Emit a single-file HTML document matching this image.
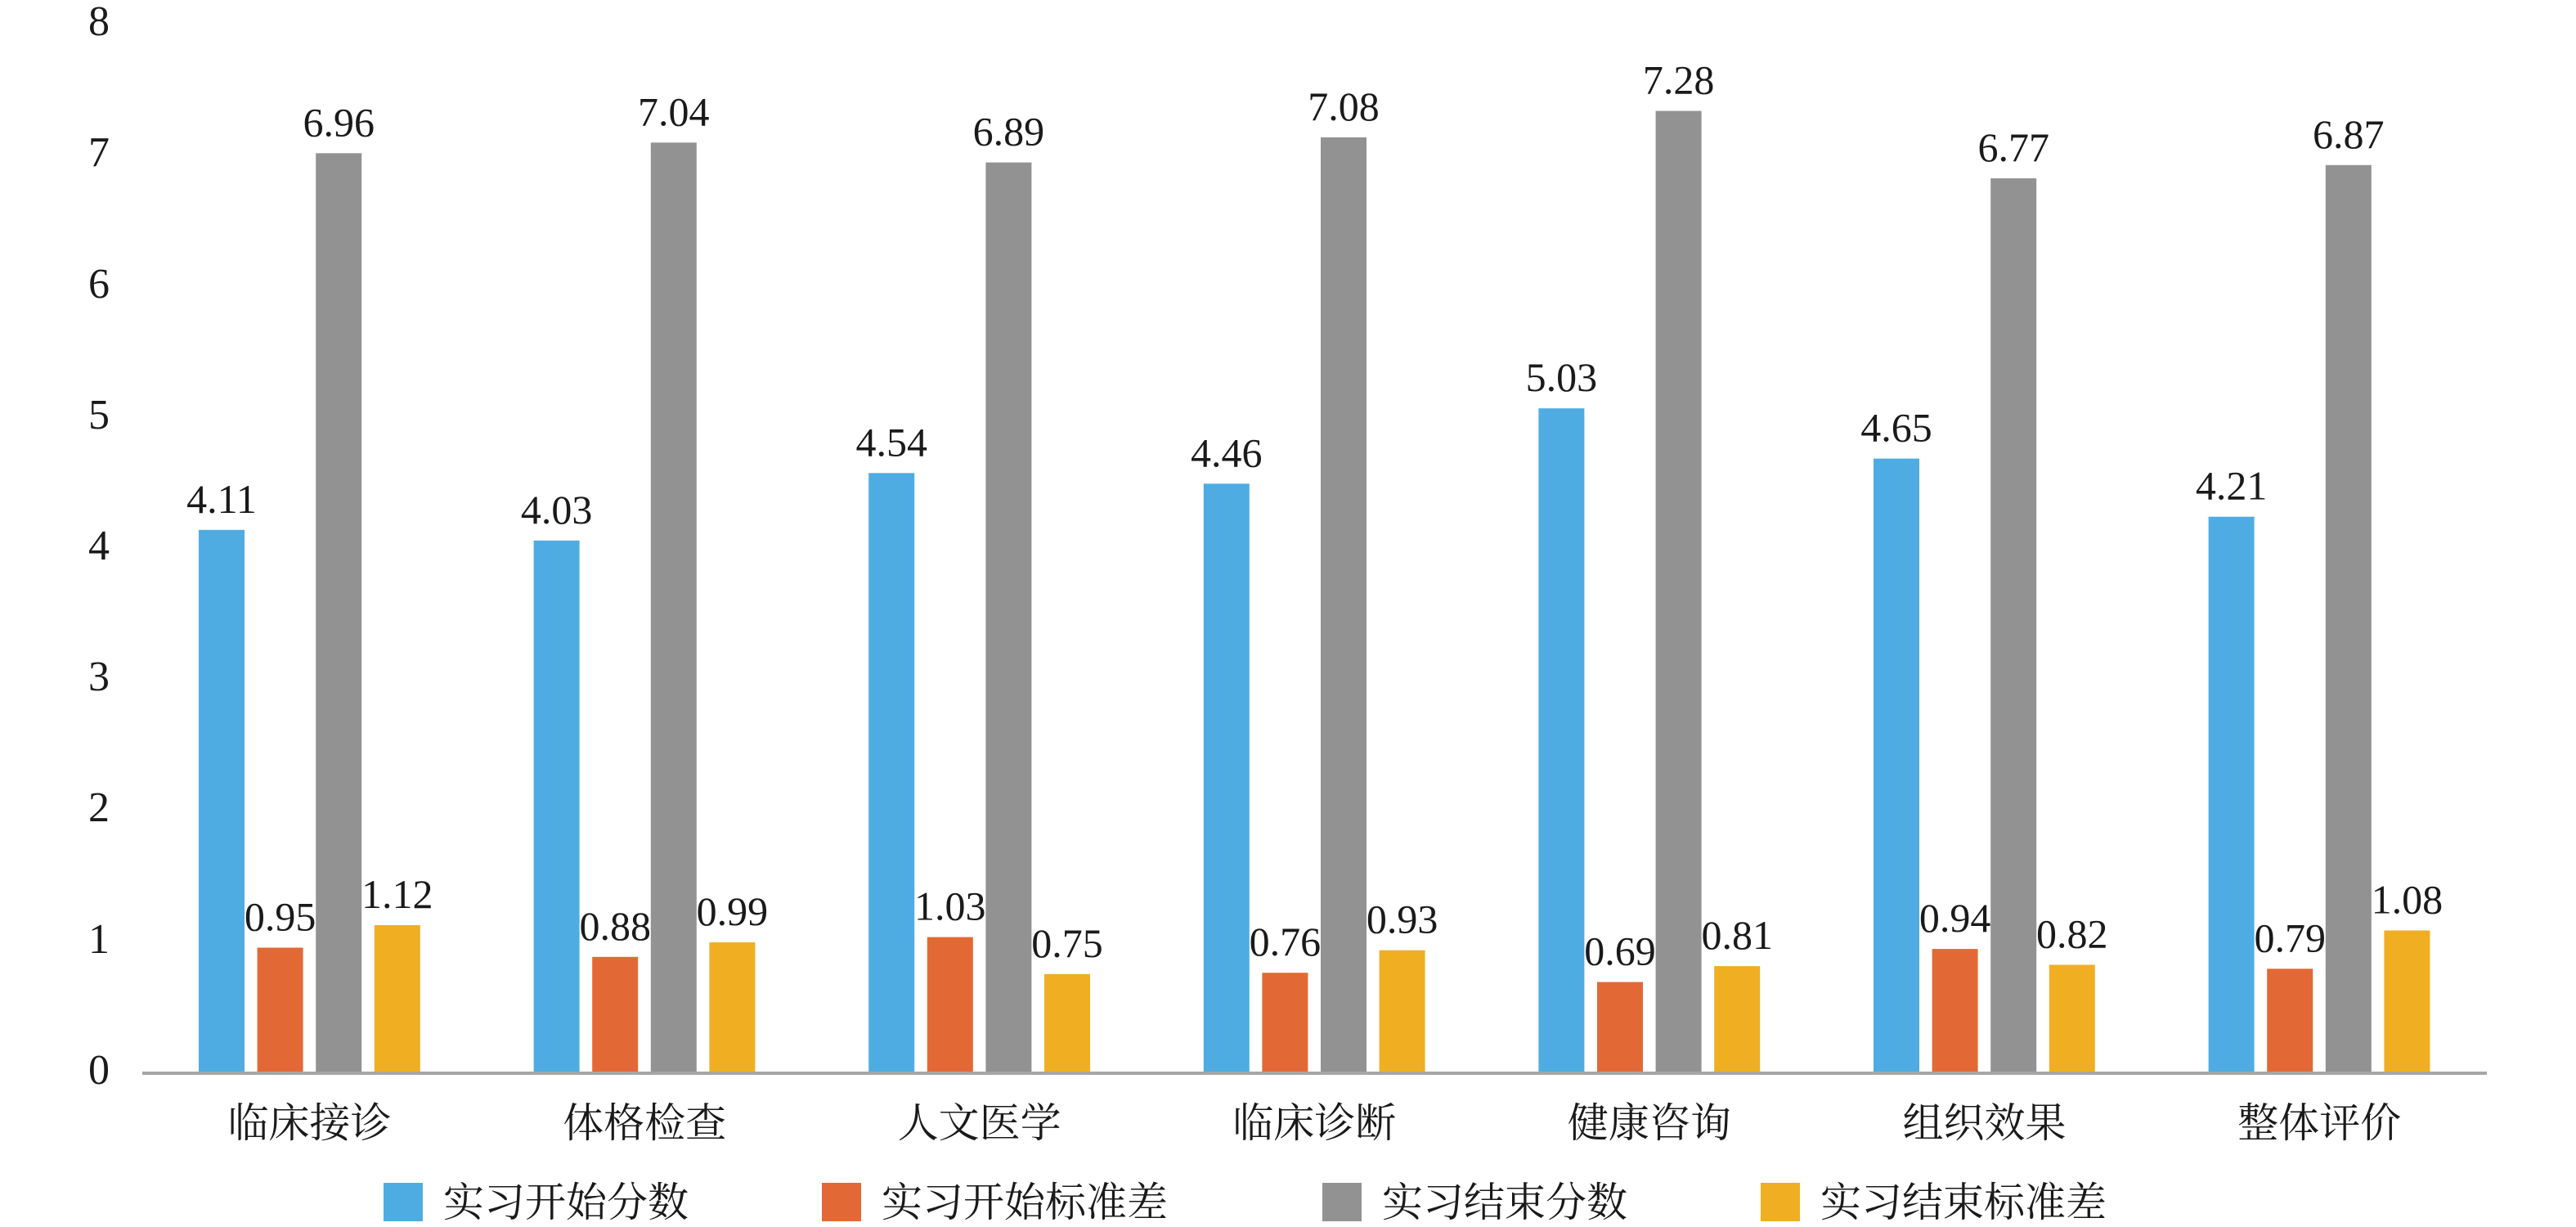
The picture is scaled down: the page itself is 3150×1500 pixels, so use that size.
<!DOCTYPE html>
<html><head><meta charset="utf-8"><style>html,body{margin:0;padding:0;background:#fff}svg{display:block}</style></head>
<body>
<svg width="3150" height="1500" viewBox="0 0 3150 1500" xmlns="http://www.w3.org/2000/svg">
<rect width="3150" height="1500" fill="#fff"/>
<g font-family="'Liberation Serif', serif" font-size="52" fill="#1a1a1a" text-anchor="middle">
<text x="121" y="43">8</text><text x="121" y="203">7</text><text x="121" y="364">6</text><text x="121" y="524">5</text><text x="121" y="684">4</text><text x="121" y="844">3</text><text x="121" y="1004">2</text><text x="121" y="1165">1</text><text x="121" y="1325">0</text>
</g>
<g>
<rect x="243" y="647.8" width="56" height="664.2" fill="#4FACE2"/>
<rect x="314.6" y="1158.5" width="56" height="153.5" fill="#E26935"/>
<rect x="386.2" y="187.3" width="56" height="1124.7" fill="#939293"/>
<rect x="457.8" y="1131" width="56" height="181" fill="#F0AE23"/>
<rect x="652.6" y="660.8" width="56" height="651.2" fill="#4FACE2"/>
<rect x="724.2" y="1169.8" width="56" height="142.2" fill="#E26935"/>
<rect x="795.8" y="174.3" width="56" height="1137.7" fill="#939293"/>
<rect x="867.4" y="1152" width="56" height="160" fill="#F0AE23"/>
<rect x="1062.2" y="578.3" width="56" height="733.7" fill="#4FACE2"/>
<rect x="1133.8" y="1145.6" width="56" height="166.4" fill="#E26935"/>
<rect x="1205.4" y="198.6" width="56" height="1113.4" fill="#939293"/>
<rect x="1277" y="1190.8" width="56" height="121.2" fill="#F0AE23"/>
<rect x="1471.8" y="591.3" width="56" height="720.7" fill="#4FACE2"/>
<rect x="1543.4" y="1189.2" width="56" height="122.8" fill="#E26935"/>
<rect x="1615" y="167.9" width="56" height="1144.1" fill="#939293"/>
<rect x="1686.6" y="1161.7" width="56" height="150.3" fill="#F0AE23"/>
<rect x="1881.4" y="499.2" width="56" height="812.8" fill="#4FACE2"/>
<rect x="1953" y="1200.5" width="56" height="111.5" fill="#E26935"/>
<rect x="2024.6" y="135.6" width="56" height="1176.4" fill="#939293"/>
<rect x="2096.2" y="1181.1" width="56" height="130.9" fill="#F0AE23"/>
<rect x="2291" y="560.6" width="56" height="751.4" fill="#4FACE2"/>
<rect x="2362.6" y="1160.1" width="56" height="151.9" fill="#E26935"/>
<rect x="2434.2" y="218" width="56" height="1094" fill="#939293"/>
<rect x="2505.8" y="1179.5" width="56" height="132.5" fill="#F0AE23"/>
<rect x="2700.6" y="631.7" width="56" height="680.3" fill="#4FACE2"/>
<rect x="2772.2" y="1184.3" width="56" height="127.7" fill="#E26935"/>
<rect x="2843.8" y="201.8" width="56" height="1110.2" fill="#939293"/>
<rect x="2915.4" y="1137.5" width="56" height="174.5" fill="#F0AE23"/>
</g>
<g font-family="'Liberation Serif', serif" font-size="50" fill="#1a1a1a" text-anchor="middle">
<text x="271" y="626.8">4.11</text><text x="342.6" y="1137.5">0.95</text><text x="414.2" y="166.3">6.96</text><text x="485.8" y="1110">1.12</text>
<text x="680.6" y="639.8">4.03</text><text x="752.2" y="1148.8">0.88</text><text x="823.8" y="153.3">7.04</text><text x="895.4" y="1131">0.99</text>
<text x="1090.2" y="557.3">4.54</text><text x="1161.8" y="1124.6">1.03</text><text x="1233.4" y="177.6">6.89</text><text x="1305" y="1169.8">0.75</text>
<text x="1499.8" y="570.3">4.46</text><text x="1571.4" y="1168.2">0.76</text><text x="1643" y="146.9">7.08</text><text x="1714.6" y="1140.7">0.93</text>
<text x="1909.4" y="478.2">5.03</text><text x="1981" y="1179.5">0.69</text><text x="2052.6" y="114.6">7.28</text><text x="2124.2" y="1160.1">0.81</text>
<text x="2319" y="539.6">4.65</text><text x="2390.6" y="1139.1">0.94</text><text x="2462.2" y="197">6.77</text><text x="2533.8" y="1158.5">0.82</text>
<text x="2728.6" y="610.7">4.21</text><text x="2800.2" y="1163.3">0.79</text><text x="2871.8" y="180.8">6.87</text><text x="2943.4" y="1116.5">1.08</text>
</g>
<rect x="174" y="1310" width="2867" height="4" fill="#a6a6a6"/>
<g font-family="'Liberation Serif','Noto Serif CJK SC',serif" font-size="50" fill="#1a1a1a" text-anchor="middle">
<text x="378.5" y="1390">临床接诊</text>
<text x="788.1" y="1390">体格检查</text>
<text x="1197.7" y="1390">人文医学</text>
<text x="1607.3" y="1390">临床诊断</text>
<text x="2016.9" y="1390">健康咨询</text>
<text x="2426.5" y="1390">组织效果</text>
<text x="2836.1" y="1390">整体评价</text>
</g>
<g font-family="'Liberation Serif','Noto Serif CJK SC',serif" font-size="50" fill="#1a1a1a">
<rect x="469" y="1446" width="48" height="47" fill="#4FACE2"/><text x="542" y="1487">实习开始分数</text>
<rect x="1005" y="1446" width="48" height="47" fill="#E26935"/><text x="1078" y="1487">实习开始标准差</text>
<rect x="1617" y="1446" width="48" height="47" fill="#939293"/><text x="1690" y="1487">实习结束分数</text>
<rect x="2153" y="1446" width="48" height="47" fill="#F0AE23"/><text x="2226" y="1487">实习结束标准差</text>
</g>
</svg>
</body></html>
